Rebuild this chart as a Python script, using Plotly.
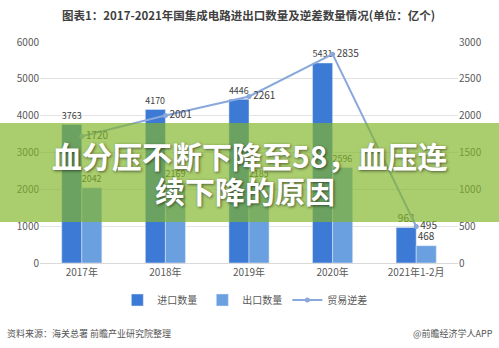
import plotly.graph_objects as go

categories = ["2017年", "2018年", "2019年", "2020年", "2021年1-2月"]
imports = [3763, 4170, 4446, 5431, 963]
exports = [2042, 2169, 2185, 2596, 468]
deficit = [1720, 2001, 2261, 2835, 495]
left_ticks = [0, 1000, 2000, 3000, 4000, 5000, 6000]
right_ticks = [0, 500, 1000, 1500, 2000, 2500, 3000]

W, H = 499, 348
L, R, T, B = 40, 41, 42, 85
pw, ph = W - L - R, H - T - B

def px(x):
    return (x - L) / pw

def py(y):
    return (H - B - y) / ph

FONT = "Noto Sans CJK SC"

fig = go.Figure()
fig.add_trace(go.Bar(
    x=categories, y=imports, name="进口数量", marker_color="#3d7ad6",
    text=imports, textposition="outside", cliponaxis=False,
    textfont=dict(size=10, color="#404040", family=FONT),
))
fig.add_trace(go.Bar(
    x=categories, y=exports, name="出口数量", marker_color="#6a9fe0",
    text=exports, textposition="outside", cliponaxis=False,
    textfont=dict(size=10, color="#404040", family=FONT),
))
fig.add_trace(go.Scatter(
    x=categories, y=deficit, name="贸易逆差", yaxis="y2",
    mode="lines+markers+text", line=dict(color="#8aa8dc", width=2),
    marker=dict(size=5, color="#8aa8dc"),
    text=deficit, textposition="middle right", cliponaxis=False,
    textfont=dict(size=10, color="#404040", family=FONT),
))

fig.update_layout(
    width=W, height=H, margin=dict(l=L, r=R, t=T, b=B),
    paper_bgcolor="white", plot_bgcolor="white",
    font=dict(family=FONT, color="#595959", size=10),
    barmode="group", bargap=0.52, bargroupgap=0,
    showlegend=True,
    legend=dict(orientation="h", x=0.49, xanchor="center", y=py(300), yanchor="middle",
                font=dict(size=10, color="#595959"), itemwidth=30, tracegroupgap=0),
    xaxis=dict(showgrid=False, showline=True, linecolor="#d9d9d9", ticks="",
               tickfont=dict(size=10, color="#595959")),
    yaxis=dict(range=[0, 6000], tickvals=left_ticks, showgrid=True, gridcolor="#e3e3e3",
               zeroline=False, showline=False, tickfont=dict(size=10, color="#595959")),
    yaxis2=dict(range=[0, 3000], tickvals=right_ticks, overlaying="y", side="right",
                showgrid=False, zeroline=False, showline=False,
                tickfont=dict(size=10, color="#595959")),
)

# green overlay band
fig.add_shape(type="rect", xref="paper", yref="paper",
              x0=px(0), x1=px(W), y0=py(222), y1=py(123),
              fillcolor="rgba(130,181,42,0.68)", line=dict(width=0), layer="above")

shadow = "1px 1px 3px rgba(0,0,0,0.55)"
fig.add_annotation(xref="paper", yref="paper", x=px(250), y=py(155),
                   text="<b>血分压不断下降至58，血压连</b>", showarrow=False,
                   font=dict(size=30, color="white", family=FONT, shadow=shadow),
                   xanchor="center", yanchor="middle")
fig.add_annotation(xref="paper", yref="paper", x=px(245), y=py(190),
                   text="<b>续下降的原因</b>", showarrow=False,
                   font=dict(size=30, color="white", family=FONT, shadow=shadow),
                   xanchor="center", yanchor="middle")

# title
fig.add_annotation(xref="paper", yref="paper", x=px(248), y=py(15),
                   text="<b>图表1：2017-2021年国集成电路进出口数量及逆差数量情况(单位：亿个)</b>",
                   showarrow=False, font=dict(size=11.5, color="#404040", family=FONT),
                   xanchor="center", yanchor="middle")

# footer
fig.add_annotation(xref="paper", yref="paper", x=px(5), y=py(333),
                   text="资料来源：海关总署 前瞻产业研究院整理", showarrow=False,
                   font=dict(size=9, color="#555555", family=FONT),
                   xanchor="left", yanchor="middle")
fig.add_annotation(xref="paper", yref="paper", x=px(495), y=py(333),
                   text="@前瞻经济学人APP", showarrow=False,
                   font=dict(size=9, color="#555555", family=FONT),
                   xanchor="right", yanchor="middle")

fig.write_html("out.html")
